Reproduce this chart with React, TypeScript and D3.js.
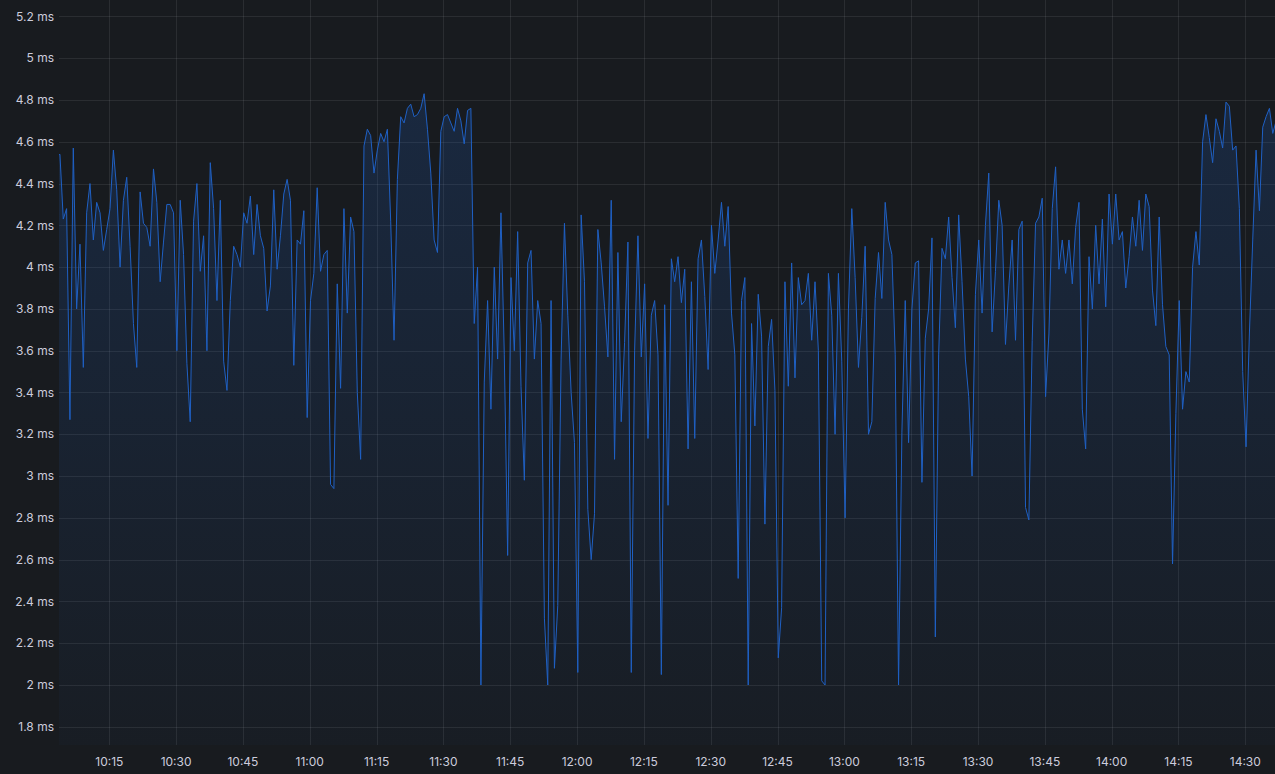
import * as d3 from 'd3';
import React, { useEffect, useRef } from 'react';

// one sample every 45 s, starting 10:03:10
const START = new Date(2024, 0, 1, 10, 3, 10);
const STEP_SEC = 45;

const latencyFrom1003 = [
  4.53, 4.54, 4.23, 4.28, 3.27, 4.57, 3.8, 4.11, 3.52, 4.26, 4.4, 4.13, 4.31, 4.26, 4.08,
  4.18, 4.28, 4.56, 4.37, 4.0, 4.32, 4.43, 4.1, 3.73, 3.52, 4.36, 4.21, 4.19, 4.1, 4.47,
  4.31, 3.93, 4.12, 4.3, 4.3, 4.26, 3.6, 4.32, 4.06, 3.54, 3.26, 4.22, 4.4, 3.98, 4.15,
  3.6, 4.5, 4.28, 3.84, 4.32, 3.55, 3.41, 3.84, 4.1, 4.06, 4.0, 4.26, 4.21, 4.34, 4.06,
];
const latencyFrom1048 = [
  4.3, 4.15, 4.09, 3.79, 3.91, 4.37, 3.99, 4.15, 4.35, 4.42, 4.32, 3.53, 4.13, 4.11, 4.27,
  3.28, 3.84, 3.97, 4.38, 3.98, 4.06, 4.08, 2.96, 2.94, 3.92, 3.42, 4.28, 3.78, 4.24, 4.17,
  3.4, 3.08, 4.58, 4.66, 4.63, 4.45, 4.56, 4.64, 4.6, 4.66, 4.22, 3.65, 4.42, 4.72, 4.69,
  4.76, 4.78, 4.72, 4.73, 4.76, 4.83, 4.66, 4.45, 4.13, 4.07, 4.65, 4.72, 4.73, 4.69, 4.65,
];
const latencyFrom1133 = [
  4.76, 4.7, 4.59, 4.75, 4.76, 3.73, 4.0, 2.0, 3.45, 3.84, 3.32, 4.0, 3.56, 4.26, 3.58,
  2.62, 3.95, 3.6, 4.17, 3.43, 2.98, 4.02, 4.08, 3.56, 3.84, 3.73, 2.32, 2.0, 3.84, 2.08,
  2.38, 3.56, 4.21, 3.77, 3.4, 3.16, 2.06, 4.25, 3.93, 2.84, 2.6, 2.82, 4.18, 4.02, 3.81,
  3.57, 4.32, 3.08, 4.07, 3.26, 3.64, 4.12, 2.06, 3.6, 4.15, 3.57, 3.92, 3.18, 3.77, 3.84,
];
const latencyFrom1218 = [
  3.58, 2.05, 3.82, 2.86, 4.04, 3.93, 4.05, 3.83, 3.99, 3.13, 3.93, 3.18, 4.04, 4.13, 3.86,
  3.51, 4.2, 3.97, 4.13, 4.31, 4.1, 4.29, 3.78, 3.58, 2.51, 3.84, 3.95, 2.0, 3.73, 3.24,
  3.87, 3.67, 2.77, 3.62, 3.75, 3.41, 2.13, 2.37, 3.93, 3.43, 4.02, 3.47, 3.95, 3.82, 3.84,
  3.97, 3.65, 3.93, 3.6, 2.02, 2.0, 3.97, 3.77, 3.2, 3.97, 3.55, 2.8, 3.8, 4.28, 3.95,
];
const latencyFrom1303 = [
  3.52, 3.76, 4.1, 3.2, 3.26, 3.85, 4.07, 3.85, 4.31, 4.13, 4.06, 3.58, 2.0, 3.21, 3.84,
  3.16, 3.8, 4.02, 4.03, 2.97, 3.66, 3.8, 4.14, 2.23, 3.58, 4.09, 4.04, 4.24, 3.95, 3.71,
  4.25, 3.93, 3.56, 3.38, 3.0, 3.87, 4.13, 3.78, 4.2, 4.45, 3.69, 3.98, 4.32, 4.2, 3.63,
  3.91, 4.13, 3.65, 4.18, 4.22, 2.85, 2.79, 3.65, 4.21, 4.24, 4.33, 3.38, 3.68, 4.28, 4.48,
];
const latencyFrom1348 = [
  3.99, 4.13, 3.97, 4.13, 3.92, 4.19, 4.31, 3.32, 3.13, 4.05, 3.8, 4.2, 3.92, 4.23, 3.81,
  4.35, 4.11, 4.35, 4.13, 4.17, 3.9, 4.05, 4.24, 4.1, 4.32, 4.08, 4.35, 4.29, 3.89, 3.72,
  4.24, 3.82, 3.62, 3.58, 2.58, 3.3, 3.84, 3.32, 3.5, 3.45, 4.0, 4.17, 4.01, 4.6, 4.73,
  4.62, 4.5, 4.71, 4.65, 4.57, 4.79, 4.77, 4.56, 4.58, 4.28, 3.5, 3.14, 3.68, 4.13, 4.56,
  4.27, 4.67, 4.72, 4.76, 4.64, 4.7,
];

const W = 1275;
const H = 774;

const LatencyChart: React.FC = () => {
  const svgRef = useRef<SVGSVGElement | null>(null);

  useEffect(() => {
    document.body.style.margin = '0';
    document.body.style.background = '#181b1f';
    if (!svgRef.current) return;
    const svg = d3.select(svgRef.current);
    svg.selectAll('*').remove();

    const values = [
      ...latencyFrom1003,
      ...latencyFrom1048,
      ...latencyFrom1133,
      ...latencyFrom1218,
      ...latencyFrom1303,
      ...latencyFrom1348,
    ];
    const data = values.map((v, i) => ({
      t: new Date(START.getTime() + i * STEP_SEC * 1000),
      v,
    }));

    const plot = { left: 59, right: W, top: 0, bottom: 745 };

    const x = d3
      .scaleTime()
      .domain([new Date(2024, 0, 1, 10, 15), new Date(2024, 0, 1, 14, 30)])
      .range([109.3, 1245.3]);
    const y = d3.scaleLinear().domain([1.8, 5.2]).range([726.8, 16.4]);

    const defs = svg.append('defs');
    defs
      .append('clipPath')
      .attr('id', 'plot-clip')
      .append('rect')
      .attr('x', plot.left)
      .attr('y', plot.top)
      .attr('width', plot.right - plot.left)
      .attr('height', plot.bottom - plot.top);

    const grad = defs
      .append('linearGradient')
      .attr('id', 'area-fill')
      .attr('gradientUnits', 'userSpaceOnUse')
      .attr('x1', 0)
      .attr('x2', 0)
      .attr('y1', y(4.85))
      .attr('y2', plot.bottom);
    grad.append('stop').attr('offset', 0).attr('stop-color', '#1f60c4').attr('stop-opacity', 0.2);
    grad.append('stop').attr('offset', 1).attr('stop-color', '#1f60c4').attr('stop-opacity', 0.03);

    // grid
    const yTicks = y.ticks(17);
    const xTicks = d3.timeMinute
      .every(15)!
      .range(x.invert(plot.left), x.invert(plot.right));

    svg
      .append('g')
      .selectAll('line')
      .data(yTicks)
      .enter()
      .append('line')
      .attr('x1', plot.left)
      .attr('x2', plot.right)
      .attr('y1', (d) => Math.round(y(d)) + 0.5)
      .attr('y2', (d) => Math.round(y(d)) + 0.5)
      .attr('stroke', 'rgba(204,204,220,0.1)');

    svg
      .append('g')
      .selectAll('line')
      .data(xTicks)
      .enter()
      .append('line')
      .attr('x1', (d) => Math.round(x(d)) + 0.5)
      .attr('x2', (d) => Math.round(x(d)) + 0.5)
      .attr('y1', plot.top)
      .attr('y2', plot.bottom)
      .attr('stroke', 'rgba(204,204,220,0.1)');

    const g = svg.append('g').attr('clip-path', 'url(#plot-clip)');

    const area = d3
      .area<{ t: Date; v: number }>()
      .x((d) => x(d.t))
      .y0(plot.bottom)
      .y1((d) => y(d.v));
    g.append('path').datum(data).attr('fill', 'url(#area-fill)').attr('d', area);

    const line = d3
      .line<{ t: Date; v: number }>()
      .x((d) => x(d.t))
      .y((d) => y(d.v));
    g.append('path')
      .datum(data)
      .attr('fill', 'none')
      .attr('stroke', '#1f60c4')
      .attr('stroke-width', 1)
      .attr('stroke-linejoin', 'round')
      .attr('d', line);

    // axis labels
    const fmtMs = (d: number) => `${+d.toFixed(1)} ms`;
    svg
      .append('g')
      .selectAll('text')
      .data(yTicks)
      .enter()
      .append('text')
      .attr('x', 54)
      .attr('y', (d) => y(d))
      .attr('dy', '0.35em')
      .attr('text-anchor', 'end')
      .attr('fill', '#ccccdc')
      .style('font', '12px Inter, "Noto Sans", sans-serif')
      .text(fmtMs);

    svg
      .append('g')
      .selectAll('text')
      .data(xTicks)
      .enter()
      .append('text')
      .attr('x', (d) => x(d))
      .attr('y', 762)
      .attr('dy', '0.35em')
      .attr('text-anchor', 'middle')
      .attr('fill', '#ccccdc')
      .style('font', '12px Inter, "Noto Sans", sans-serif')
      .text(d3.timeFormat('%H:%M'));
  }, []);

  return (
    <svg
      ref={svgRef}
      width={W}
      height={H}
      style={{ display: 'block', background: '#181b1f' }}
    />
  );
};

export default function App() {
  return <LatencyChart />;
}
